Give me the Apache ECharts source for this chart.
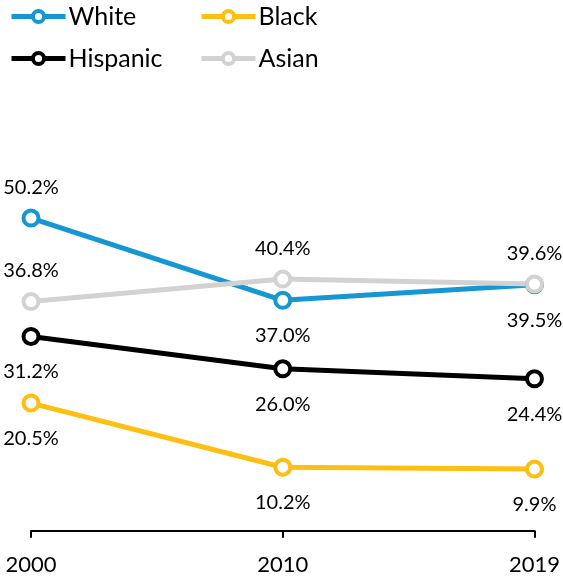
<!DOCTYPE html>
<html>
<head>
<meta charset="utf-8">
<script src="https://cdn.jsdelivr.net/npm/echarts@6/dist/echarts.min.js"></script>
<style>
html, body { margin: 0; padding: 0; background: #fff; }
#container { width: 563px; height: 582px; }
</style>
</head>
<body>
<div id="container"></div>
<script>
// years on the x axis
var years = ['2000', '2010', '2019'];
// share by group, in percent
var white = [50.2, 37.0, 39.5];
var black = [20.5, 10.2, 9.9];
var hispanic = [31.2, 26.0, 24.4];
var asian = [36.8, 40.4, 39.6];
// where each value label sits
var whiteLabelPos = ['top', 'bottom', 'bottom'];
var blackLabelPos = ['bottom', 'bottom', 'bottom'];
var hispanicLabelPos = ['bottom', 'bottom', 'bottom'];
var asianLabelPos = ['top', 'top', 'top'];

var font = 'Lato';

function buildData(values, positions) {
	var list = [];
	for (var i = 0; i < values.length; i++) {
		list.push({
			value: values[i],
			label: {
				position: positions[i],
				distance: positions[i] == 'top' ? 11 : 16
			}
		});
	}
	return list;
}

function makeSeries(name, color, values, positions) {
	return {
		name: name,
		type: 'line',
		data: buildData(values, positions),
		symbol: 'circle',
		symbolSize: 15,
		color: color,
		lineStyle: { color: color, width: 5 },
		itemStyle: { color: '#fff', borderColor: color, borderWidth: 4 },
		label: {
			show: true,
			color: '#000',
			fontFamily: font,
			fontSize: 20,
			formatter: function(p) { return p.value.toFixed(1) + '%'; }
		},
		emphasis: { disabled: true },
		z: 2
	};
}

function makeLegend(left, names) {
	return {
		orient: 'vertical',
		left: left,
		top: -1,
		data: names,
		itemWidth: 54,
		itemHeight: 14,
		itemGap: 17,
		selectedMode: false,
		lineStyle: { width: 5 },
		itemStyle: { borderWidth: 4 },
		textStyle: { fontFamily: font, fontSize: 25, color: '#000', lineHeight: 25, padding: [0, 0, 0, -2] }
	};
}

var myChart = echarts.init(document.getElementById('container'));
var option = {
	animation: false,
	legend: [
		makeLegend(4, ['White', 'Hispanic']),
		makeLegend(194, ['Black', 'Asian'])
	],
	grid: { left: 31, right: 24, top: 157, bottom: 45 },
	xAxis: {
		type: 'category',
		data: years,
		boundaryGap: false,
		axisLine: { lineStyle: { color: '#000', width: 2 } },
		axisTick: { show: true, length: 7, lineStyle: { color: '#000', width: 2 } },
		axisLabel: { color: '#000', fontFamily: font, fontSize: 22, margin: 17 }
	},
	yAxis: {
		type: 'value',
		show: false,
		min: -1,
		max: 60,
		splitLine: { show: false }
	},
	series: [
		makeSeries('White', '#1696d2', white, whiteLabelPos),
		makeSeries('Black', '#fdbf11', black, blackLabelPos),
		makeSeries('Hispanic', '#000000', hispanic, hispanicLabelPos),
		makeSeries('Asian', '#d2d2d2', asian, asianLabelPos)
	]
};
myChart.setOption(option);
</script>
</body>
</html>
